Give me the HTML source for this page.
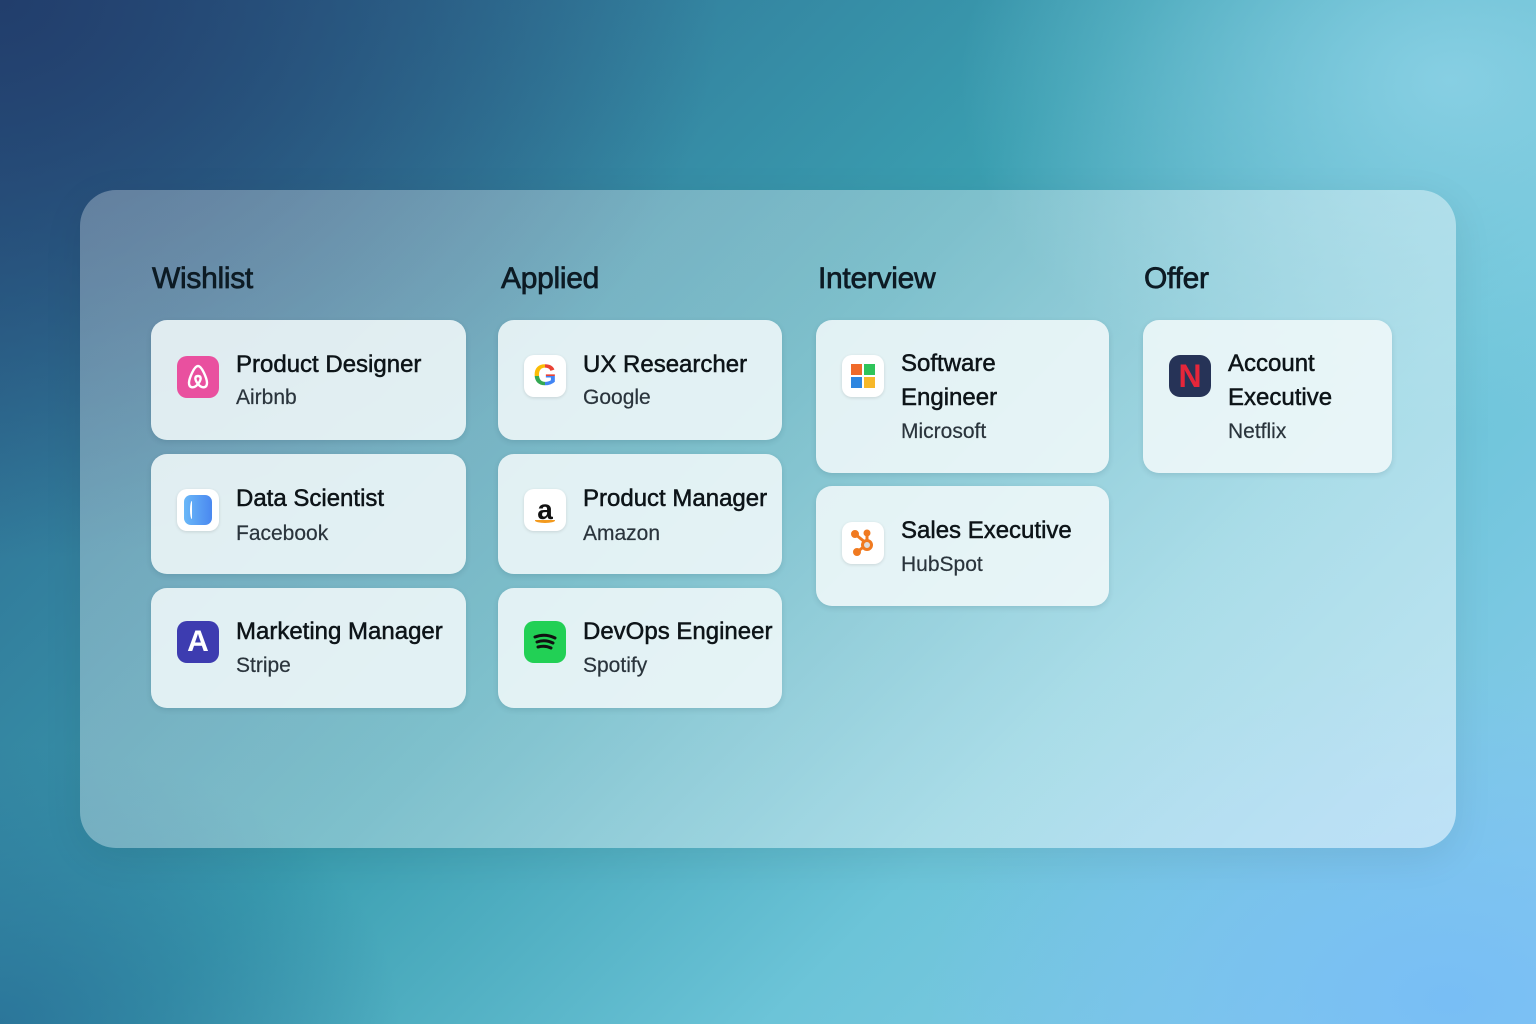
<!DOCTYPE html>
<html><head><meta charset="utf-8"><style>
*{margin:0;padding:0;box-sizing:border-box}
body{width:1536px;height:1024px;overflow:hidden;font-family:"Liberation Sans",sans-serif;position:relative;
background:
radial-gradient(ellipse 700px 500px at 1450px 80px,rgba(140,210,230,.9),rgba(140,210,230,0) 70%),
radial-gradient(ellipse 700px 450px at 1450px 1000px,rgba(120,190,245,1),rgba(120,190,245,0) 75%),
radial-gradient(ellipse 900px 700px at 0px 0px,rgba(34,62,108,1),rgba(34,62,108,0) 80%),
radial-gradient(ellipse 500px 350px at 0px 1024px,rgba(40,110,150,.8),rgba(40,110,150,0) 80%),
linear-gradient(135deg,#2a5c88 0%,#3a9eb0 45%,#6cc4d8 70%,#8ccdee 100%);}
.panel{position:absolute;left:80px;top:190px;width:1376px;height:658px;border-radius:36px;
background:linear-gradient(135deg,rgba(255,255,255,.28),rgba(255,255,255,.35) 50%,rgba(255,255,255,.5));box-shadow:0 10px 40px rgba(0,0,0,.08)}
h2{position:absolute;top:262px;font-size:30px;font-weight:normal;color:#0d1b24;letter-spacing:-.3px;-webkit-text-stroke:.7px #0d1b24}
.card{position:absolute;border-radius:16px;background:rgba(240,248,249,.88);box-shadow:0 2px 6px rgba(0,40,60,.12)}
.ic{position:absolute;left:26px;width:42px;height:42px;border-radius:10px;display:flex;align-items:center;justify-content:center}
.t{position:absolute;left:85px;font-size:24px;color:#0d1418;line-height:34px;-webkit-text-stroke:.5px #0d1418}
.s{position:absolute;left:85px;font-size:21px;color:#2a343c;line-height:28px;-webkit-text-stroke:.2px #2a343c}
</style></head><body>
<div class="panel"></div>
<h2 style="left:152px">Wishlist</h2>
<h2 style="left:501px">Applied</h2>
<h2 style="left:818px">Interview</h2>
<h2 style="left:1144px">Offer</h2>

<div class="card" style="left:151px;top:320px;width:315px;height:120px">
<div class="ic" style="top:36px;background:#e9509f"><svg width="26" height="28" viewBox="0 0 26 28"><path d="M13 3 C9 3 4 16 4 20 C4 25 9 26 13 21 C17 26 22 25 22 20 C22 16 17 3 13 3 Z M13 21 C9 16 10 13 13 13 C16 13 17 16 13 21Z" fill="none" stroke="#fff" stroke-width="2.4"/></svg></div>
<div class="t" style="top:28px">Product Designer</div><div class="s" style="top:64px">Airbnb</div></div>

<div class="card" style="left:151px;top:454px;width:315px;height:120px">
<div class="ic" style="top:35px;background:#fff;box-shadow:0 1px 3px rgba(0,0,0,.12)"><div style="width:28px;height:30px;border-radius:7px;background:linear-gradient(90deg,#6ab8f8,#4a88f0);position:relative"><div style="position:absolute;left:6px;top:6px;width:4px;height:18px;border-left:2px solid #fff;border-radius:50%"></div></div></div>
<div class="t" style="top:28px">Data Scientist</div><div class="s" style="top:66px">Facebook</div></div>

<div class="card" style="left:151px;top:588px;width:315px;height:120px">
<div class="ic" style="top:33px;background:#3d3cb0;color:#fff;font-weight:bold;font-size:30px">A</div>
<div class="t" style="top:27px">Marketing Manager</div><div class="s" style="top:64px">Stripe</div></div>

<div class="card" style="left:498px;top:320px;width:284px;height:120px">
<div class="ic" style="top:35px;background:#fff;box-shadow:0 1px 3px rgba(0,0,0,.12);font-weight:bold;font-size:30px"><span style="background:conic-gradient(from 0deg,#ea4335 0 90deg,#4285f4 90deg 180deg,#34a853 180deg 270deg,#fbbc05 270deg 360deg);-webkit-background-clip:text;color:transparent">G</span></div>
<div class="t" style="top:28px">UX Researcher</div><div class="s" style="top:64px">Google</div></div>

<div class="card" style="left:498px;top:454px;width:284px;height:120px">
<div class="ic" style="top:35px;background:#fff;box-shadow:0 1px 3px rgba(0,0,0,.12);font-weight:bold;font-size:28px;color:#111;flex-direction:column;line-height:24px">a<div style="width:20px;height:5px;border-bottom:3px solid #f39a1e;border-radius:0 0 50% 50%;margin-top:-4px"></div></div>
<div class="t" style="top:28px">Product Manager</div><div class="s" style="top:66px">Amazon</div></div>

<div class="card" style="left:498px;top:588px;width:284px;height:120px">
<div class="ic" style="top:33px;background:#22d055"><svg width="26" height="22" viewBox="0 0 26 22"><path d="M3 6 Q13 2 23 7 M5 11 Q13 8 21 12 M6 16 Q13 14 19 17" fill="none" stroke="#111" stroke-width="3" stroke-linecap="round"/></svg></div>
<div class="t" style="top:27px">DevOps Engineer</div><div class="s" style="top:64px">Spotify</div></div>

<div class="card" style="left:816px;top:320px;width:293px;height:153px">
<div class="ic" style="top:35px;background:#fff;box-shadow:0 1px 3px rgba(0,0,0,.12)"><div style="display:grid;grid-template-columns:11px 11px;gap:2px"><i style="height:11px;background:#f06a2a"></i><i style="height:11px;background:#2fc45a"></i><i style="height:11px;background:#2e86e0"></i><i style="height:11px;background:#f7b82a"></i></div></div>
<div class="t" style="top:27px">Software<br>Engineer</div><div class="s" style="top:98px">Microsoft</div></div>

<div class="card" style="left:816px;top:486px;width:293px;height:120px">
<div class="ic" style="top:36px;background:#fff;box-shadow:0 1px 3px rgba(0,0,0,.12)"><svg width="28" height="28" viewBox="0 0 28 28"><g stroke="#f07a20" stroke-width="3" fill="#f07a20"><line x1="6" y1="5" x2="17" y2="14"/><line x1="18" y1="5" x2="18" y2="12"/><line x1="17" y1="16" x2="8" y2="23"/><circle cx="6" cy="5" r="2.5"/><circle cx="18" cy="4" r="2"/><circle cx="8" cy="23" r="2.5"/><circle cx="18" cy="16" r="4.5" fill="#ddd"/></g></svg></div>
<div class="t" style="top:28px">Sales Executive</div><div class="s" style="top:65px">HubSpot</div></div>

<div class="card" style="left:1143px;top:320px;width:249px;height:153px">
<div class="ic" style="top:35px;background:#263357;color:#e5263a;font-weight:bold;font-size:32px;border-radius:11px">N</div>
<div class="t" style="top:27px">Account<br>Executive</div><div class="s" style="top:98px">Netflix</div></div>
</body></html>
